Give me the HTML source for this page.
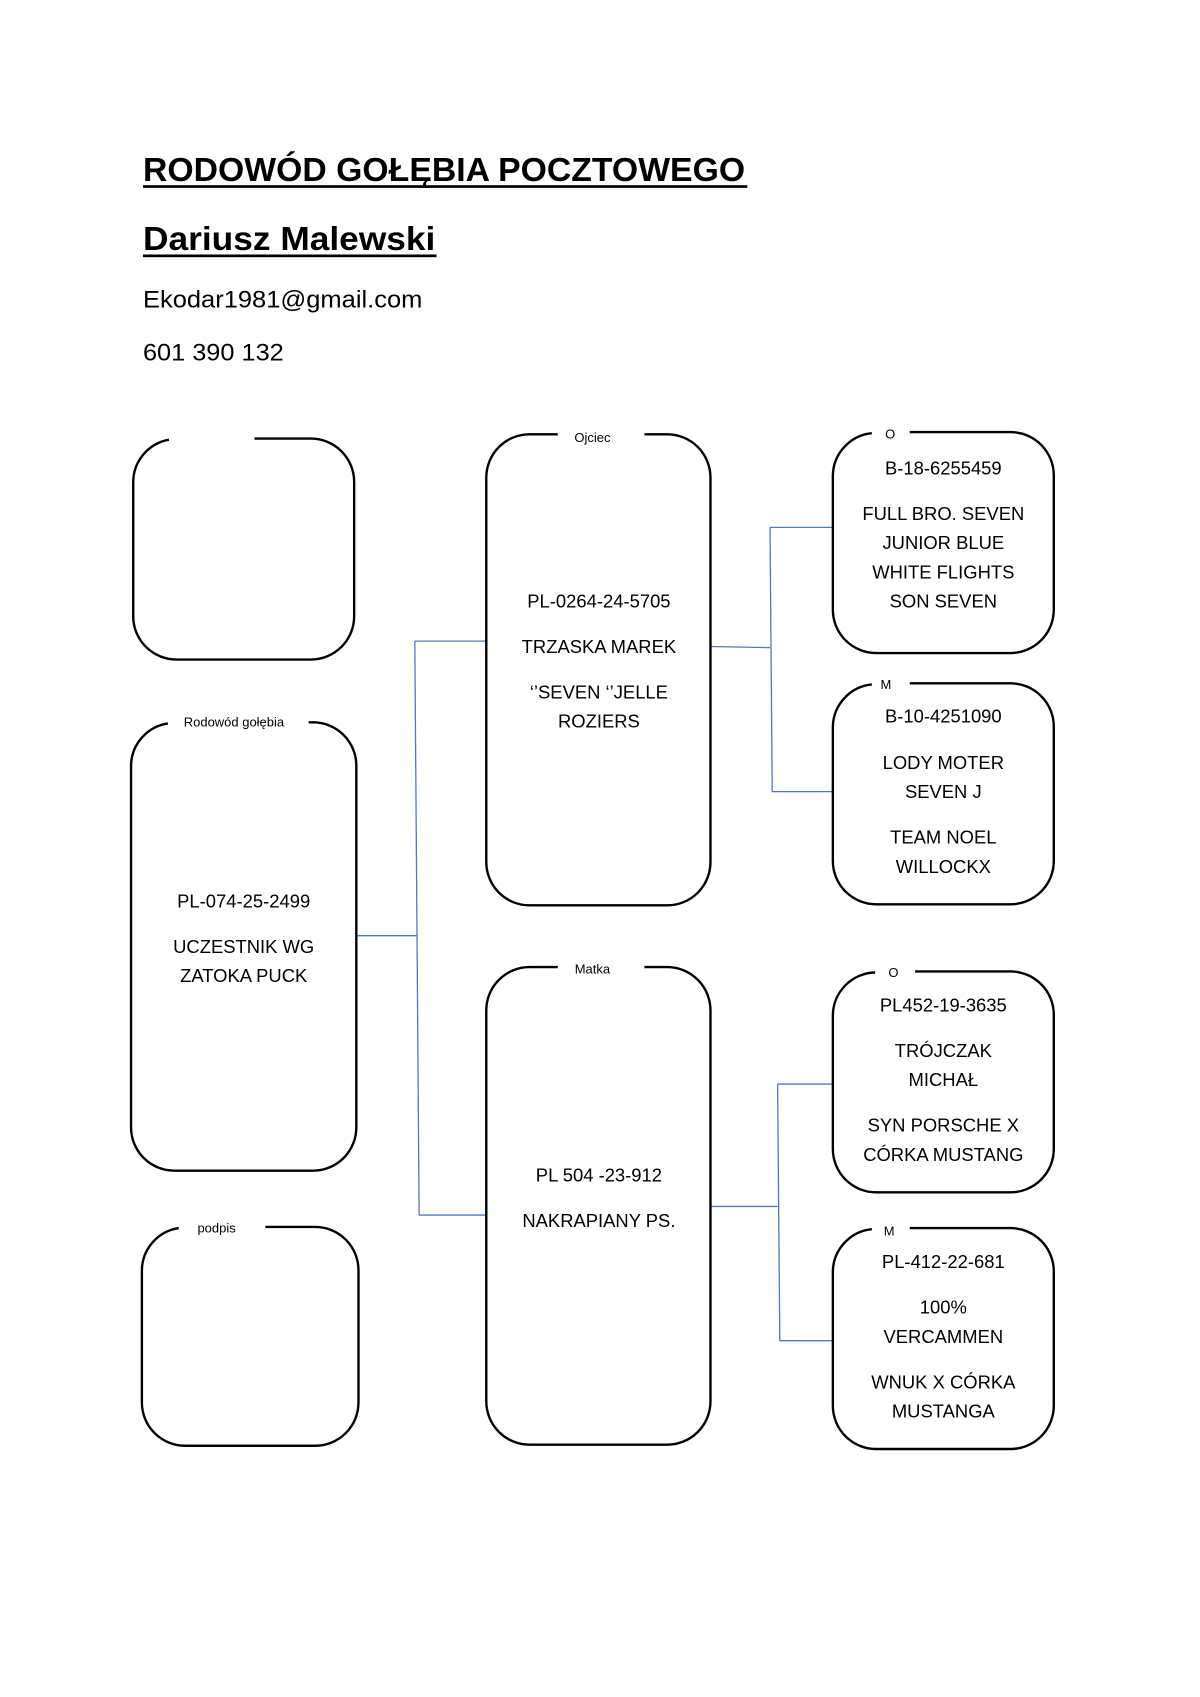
<!DOCTYPE html>
<html><head><meta charset="utf-8"><style>
html,body{margin:0;padding:0;background:#fff;}
svg{display:block;}
text{font-family:"Liberation Sans",sans-serif;fill:#000;}
.b{font-size:17px;text-anchor:middle;}
.s{font-size:12px;text-anchor:middle;}
</style></head><body>
<svg width="1200" height="1697" viewBox="0 0 1108 1567" preserveAspectRatio="none" xmlns="http://www.w3.org/2000/svg">
<text x="132" y="167" font-size="31" font-weight="bold" textLength="556" lengthAdjust="spacingAndGlyphs">RODOWÓD GOŁĘBIA POCZTOWEGO</text>
<rect x="132" y="171" width="558" height="2.5" fill="#000"/>
<text x="132" y="231" font-size="31" font-weight="bold" textLength="270" lengthAdjust="spacingAndGlyphs">Dariusz Malewski</text>
<rect x="132" y="235" width="271" height="2.5" fill="#000"/>
<text x="132" y="284" font-size="22" textLength="258" lengthAdjust="spacingAndGlyphs">Ekodar1981@gmail.com</text>
<text x="132" y="333" font-size="22" textLength="130" lengthAdjust="spacingAndGlyphs">601 390 132</text>

<g fill="none" stroke="#4f78c0" stroke-width="1.2">
<path d="M329 864 H385"/><path d="M383 592 L387 1122"/><path d="M383 592 H449"/><path d="M387 1122 H449"/>
<path d="M656 597 L711 598"/><path d="M711 487 L713 731"/><path d="M711 487 H769"/><path d="M713 731 H769"/>
<path d="M656 1114 H718"/><path d="M718 1001 L720 1238"/><path d="M718 1001 H769"/><path d="M720 1238 H769"/>
</g>

<g fill="none" stroke="#000" stroke-width="2.2">
<path d="M235 405 H287 A40 40 0 0 1 327 445 V569 A40 40 0 0 1 287 609 H163 A40 40 0 0 1 123 569 V445 A40 40 0 0 1 156 406"/>
<path d="M285 667 H289 A40 40 0 0 1 329 707 V1041 A40 40 0 0 1 289 1081 H161 A40 40 0 0 1 121 1041 V707 A40 40 0 0 1 155 668"/>
<path d="M245 1133 H291 A40 40 0 0 1 331 1173 V1295 A40 40 0 0 1 291 1335 H171 A40 40 0 0 1 131 1295 V1173 A40 40 0 0 1 165 1134"/>
<path d="M595 401 H616 A40 40 0 0 1 656 441 V796 A40 40 0 0 1 616 836 H489 A40 40 0 0 1 449 796 V441 A40 40 0 0 1 489 401 H515"/>
<path d="M595 893 H616 A40 40 0 0 1 656 933 V1294 A40 40 0 0 1 616 1334 H489 A40 40 0 0 1 449 1294 V933 A40 40 0 0 1 489 893 H515"/>
<path d="M840 399 H933 A40 40 0 0 1 973 439 V563 A40 40 0 0 1 933 603 H809 A40 40 0 0 1 769 563 V439 A40 40 0 0 1 805 400"/>
<path d="M840 631 H933 A40 40 0 0 1 973 671 V795 A40 40 0 0 1 933 835 H809 A40 40 0 0 1 769 795 V671 A40 40 0 0 1 805 632"/>
<path d="M845 897 H933 A40 40 0 0 1 973 937 V1061 A40 40 0 0 1 933 1101 H809 A40 40 0 0 1 769 1061 V937 A40 40 0 0 1 808 898"/>
<path d="M840 1134 H933 A40 40 0 0 1 973 1174 V1298 A40 40 0 0 1 933 1338 H809 A40 40 0 0 1 769 1298 V1174 A40 40 0 0 1 805 1135"/>
</g>

<text class="s" x="216" y="671">Rodowód gołębia</text>
<text class="s" x="200" y="1138">podpis</text>
<text class="s" x="547" y="408">Ojciec</text>
<text class="s" x="547" y="899">Matka</text>
<text class="s" x="822" y="405">O</text>
<text class="s" x="818" y="636">M</text>
<text class="s" x="825" y="902">O</text>
<text class="s" x="821" y="1141">M</text>

<text class="b" x="225" y="838">PL-074-25-2499</text>
<text class="b" x="225" y="880">UCZESTNIK WG</text>
<text class="b" x="225" y="907">ZATOKA PUCK</text>

<text class="b" x="553" y="561">PL-0264-24-5705</text>
<text class="b" x="553" y="603">TRZASKA MAREK</text>
<text class="b" x="553" y="645">‘’SEVEN ‘’JELLE</text>
<text class="b" x="553" y="672">ROZIERS</text>

<text class="b" x="553" y="1091">PL 504 -23-912</text>
<text class="b" x="553" y="1133">NAKRAPIANY PS.</text>

<text class="b" x="871" y="438">B-18-6255459</text>
<text class="b" x="871" y="480">FULL BRO. SEVEN</text>
<text class="b" x="871" y="507">JUNIOR BLUE</text>
<text class="b" x="871" y="534">WHITE FLIGHTS</text>
<text class="b" x="871" y="561">SON SEVEN</text>

<text class="b" x="871" y="667">B-10-4251090</text>
<text class="b" x="871" y="710">LODY MOTER</text>
<text class="b" x="871" y="737">SEVEN J</text>
<text class="b" x="871" y="779">TEAM NOEL</text>
<text class="b" x="871" y="806">WILLOCKX</text>

<text class="b" x="871" y="934">PL452-19-3635</text>
<text class="b" x="871" y="976">TRÓJCZAK</text>
<text class="b" x="871" y="1003">MICHAŁ</text>
<text class="b" x="871" y="1045">SYN PORSCHE X</text>
<text class="b" x="871" y="1072">CÓRKA MUSTANG</text>

<text class="b" x="871" y="1171">PL-412-22-681</text>
<text class="b" x="871" y="1213">100%</text>
<text class="b" x="871" y="1240">VERCAMMEN</text>
<text class="b" x="871" y="1282">WNUK X CÓRKA</text>
<text class="b" x="871" y="1309">MUSTANGA</text>
</svg>
</body></html>
